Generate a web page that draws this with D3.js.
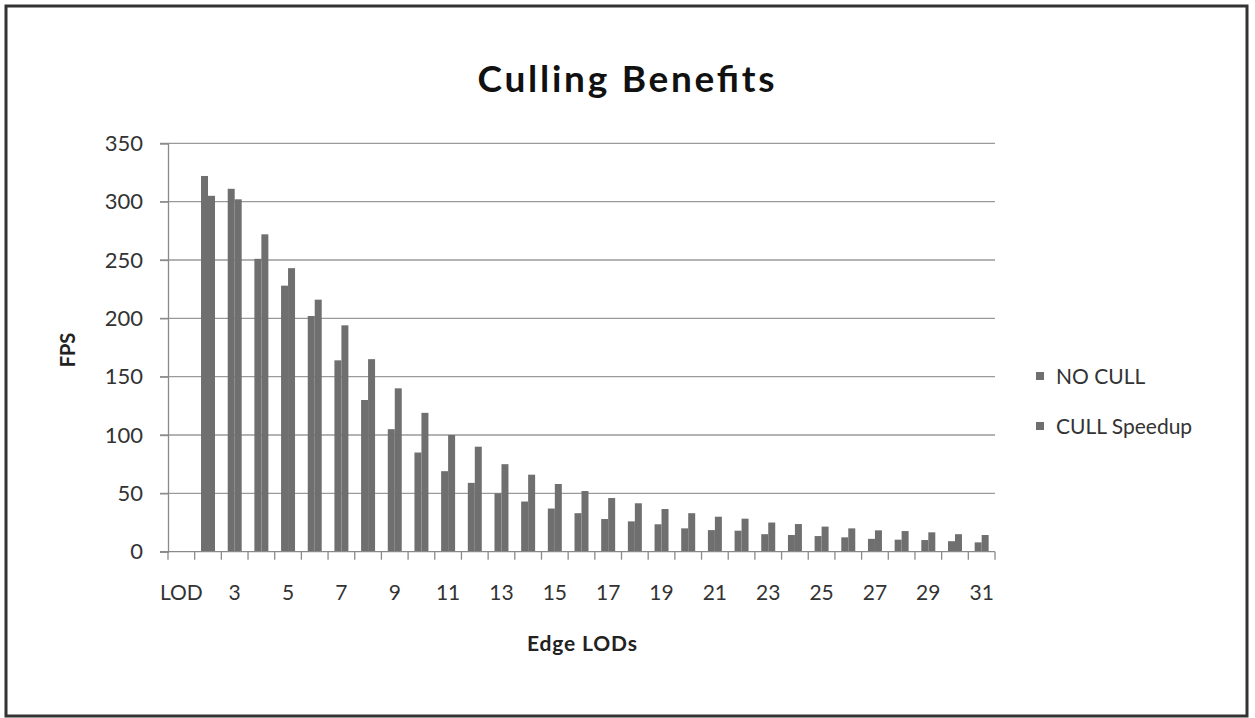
<!DOCTYPE html>
<html>
<head>
<meta charset="utf-8">
<script src="https://cdn.jsdelivr.net/npm/d3@7"></script>
<style>
  html, body { margin: 0; padding: 0; background: #fff; }
  svg { display: block; }
</style>
</head>
<body>
<svg id="chart" width="1255" height="718"></svg>
<script>
// ---- data ----
const categories = ["LOD","2","3","4","5","6","7","8","9","10","11","12","13","14","15","16","17","18","19","20","21","22","23","24","25","26","27","28","29","30","31"];
const noCull = [null,322,311,251,228,202,164,130,105,85,69,59,50,43,37,33,28,26,23.5,20,18.5,18,15,14.3,13.4,12.3,11,10.3,10,9,8];
const cullSpeedup = [null,305,302,272,243,216,194,165,140,119,100,90,75,66,58,52,46,41.5,36.6,33,30,28.3,25,23.7,21.5,20,18.3,17.7,16.6,15,14.3];
const seriesNames = ["NO CULL","CULL Speedup"];
const yTicks = [0,50,100,150,200,250,300,350];
const xTickLabels = categories.map((c,i) => i % 2 === 0 ? (i === 0 ? "LOD" : c) : "");

// ---- layout ----
const svg = d3.select("#chart");
const font = "Lato, 'Open Sans', sans-serif";
const barColor = "#6f6f6f";

svg.append("rect").attr("x",6).attr("y",6).attr("width",1241).attr("height",710)
  .attr("fill","#fff").attr("stroke","#333").attr("stroke-width",3);

const plot = {left:168, right:995, top:143.3, bottom:551.7};

const x = d3.scaleBand().domain(categories).range([plot.left, plot.right])
  .paddingInner(0.476).paddingOuter(0.238);
const xs = d3.scaleBand().domain(seriesNames).range([0, x.bandwidth()]);
const y = d3.scaleLinear().domain([0,350]).range([plot.bottom, plot.top]);

// gridlines
svg.append("g").selectAll("line").data(yTicks.filter(d => d > 0)).join("line")
  .attr("x1", plot.left - 8).attr("x2", plot.right)
  .attr("y1", d => y(d)).attr("y2", d => y(d))
  .attr("stroke","#9a9a9a").attr("stroke-width",1.3);

// y axis
const yAxis = d3.axisLeft(y).tickValues(yTicks).tickSize(8).tickPadding(17);
const gy = svg.append("g").attr("transform",`translate(${plot.left},0)`).call(yAxis);
gy.select(".domain").attr("stroke","#8a8a8a").attr("stroke-width",1.3);
gy.selectAll(".tick line").attr("stroke","#8a8a8a").attr("stroke-width",1.3);
gy.selectAll(".tick text").attr("font-family",font).attr("font-size",22).attr("fill","#333");

// bars
const series = [noCull, cullSpeedup];
series.forEach((vals, si) => {
  svg.append("g").selectAll("rect").data(categories.map((c,i) => ({c, v: vals[i]})).filter(d => d.v != null))
    .join("rect")
    .attr("x", d => x(d.c) + xs(seriesNames[si]))
    .attr("width", xs.bandwidth())
    .attr("y", d => y(d.v))
    .attr("height", d => y(0) - y(d.v))
    .attr("fill", barColor);
});

// x axis
const gx = svg.append("g").attr("transform",`translate(0,${plot.bottom})`);
gx.append("line").attr("x1", plot.left - 8).attr("x2", plot.right)
  .attr("stroke","#8a8a8a").attr("stroke-width",1.3);
const boundaries = d3.range(categories.length + 1).map(i => plot.left + i * x.step());
gx.selectAll("line.tk").data(boundaries).join("line").attr("class","tk")
  .attr("x1", d => d).attr("x2", d => d).attr("y1",0).attr("y2",8)
  .attr("stroke","#8a8a8a").attr("stroke-width",1.3);
gx.selectAll("text").data(categories).join("text")
  .attr("x", d => x(d) + x.bandwidth()/2).attr("y", 48)
  .attr("text-anchor","middle").attr("font-family",font).attr("font-size",21).attr("fill","#333")
  .text((d,i) => xTickLabels[i]);

// title
svg.append("text").attr("x",626).attr("y",92).attr("text-anchor","middle")
  .attr("font-family",font).attr("font-weight","bold").attr("font-size",37).attr("fill","#111")
  .attr("textLength",297).attr("lengthAdjust","spacing")
  .text("Culling Benefits");

// axis titles
svg.append("text").attr("transform","translate(75,350) rotate(-90)").attr("text-anchor","middle")
  .attr("font-family",font).attr("font-weight","bold").attr("font-size",20).attr("fill","#222")
  .text("FPS");
svg.append("text").attr("x",582).attr("y",651).attr("text-anchor","middle")
  .attr("font-family",font).attr("font-weight","bold").attr("font-size",21).attr("fill","#222")
  .attr("textLength",110).attr("lengthAdjust","spacing")
  .text("Edge LODs");

// legend
const lg = svg.append("g");
seriesNames.forEach((name, i) => {
  const cy = 376 + i * 50;
  lg.append("rect").attr("x",1036).attr("y",cy - 4).attr("width",8).attr("height",8).attr("fill",barColor);
  lg.append("text").attr("x",1056).attr("y",cy + 8).attr("font-family",font).attr("font-size",21)
    .attr("fill","#333").text(name);
});
</script>
</body>
</html>
